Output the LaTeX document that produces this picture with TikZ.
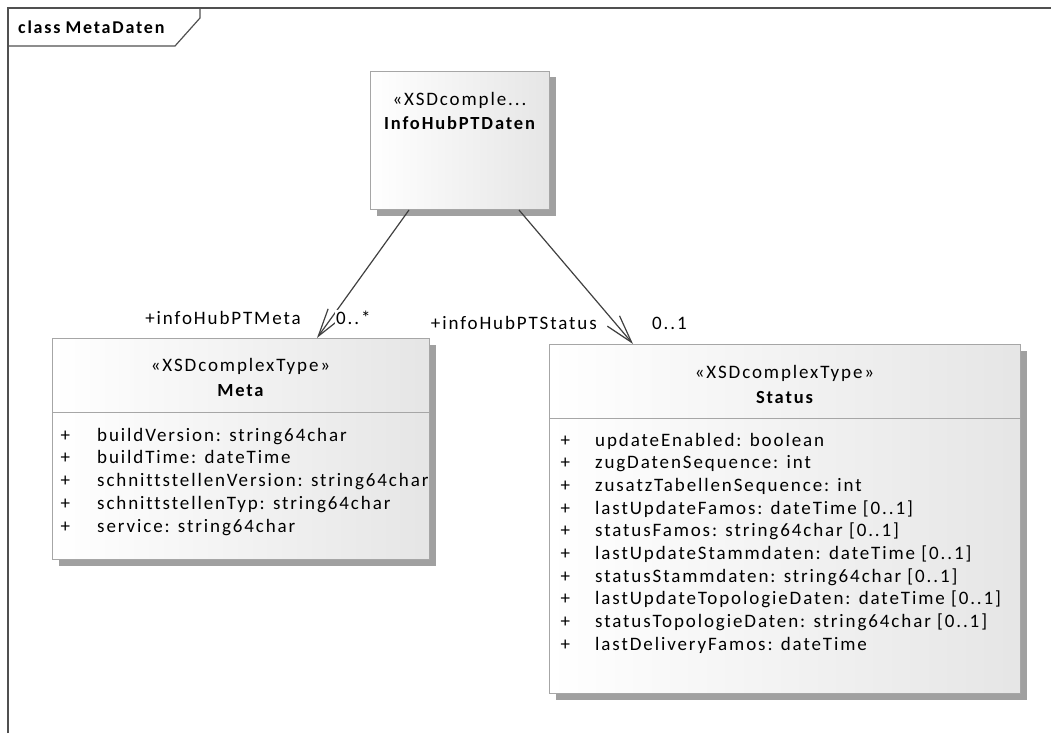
\documentclass[tikz,border=0pt]{standalone}
\usepackage{fontspec}
\setmainfont{Carlito}[LetterSpace=10,Ligatures=NoCommon]
\usetikzlibrary{arrows.meta,shadows}
\definecolor{framecol}{HTML}{505050}
\definecolor{boxborder}{HTML}{A6A6A6}
\definecolor{shadowcol}{HTML}{A0A0A0}
\definecolor{linecol}{HTML}{404040}
\begin{document}
\begin{tikzpicture}[x=1pt,y=-1pt,
  frame/.style={draw=framecol, line width=1.2pt},
  classbox/.style={draw=boxborder, line width=1pt, anchor=north west, inner sep=0pt,
    left color=white, right color=black!10,
    drop shadow={shadow xshift=6pt, shadow yshift=-6pt, fill=shadowcol, opacity=1}},
  sepline/.style={draw=boxborder, line width=1pt},
  txt/.style={font=\fontsize{19}{22}\selectfont, inner sep=0pt, text=black},
  btxt/.style={font=\fontsize{18.5}{22}\selectfont\bfseries, inner sep=0pt, text=black},
  rolelbl/.style={font=\fontsize{19}{22}\selectfont, inner sep=1pt, fill=white, text=black},
  assoc/.style={draw=linecol, line width=1.2pt, -{Straight Barb[length=28pt,width=16pt]}}
]
\useasboundingbox (0,0) rectangle (1051,733);

% diagram frame
\draw[frame] (8,733) -- (8,8) -- (1051,8);
\draw[frame] (8,46) -- (175,46) -- (200,18) -- (200,8);
\node[anchor=base west, inner sep=0pt, font=\fontsize{18}{20}\selectfont\bfseries] (title) at (18,34) {class\hspace{5pt}MetaDaten};

% classes
\node[classbox, minimum width=179pt, minimum height=138pt] (info) at (370,71) {};
\node[classbox, minimum width=377pt, minimum height=221pt] (meta) at (52,338) {};
\node[classbox, minimum width=471pt, minimum height=349pt] (status) at (549,344) {};

\draw[sepline] ([yshift=-74pt]meta.north west) -- ([yshift=-74pt]meta.north east);
\draw[sepline] ([yshift=-74pt]status.north west) -- ([yshift=-74pt]status.north east);

% class headers
\node[txt, anchor=base] (infoSt) at (459.5,106) {«XSDcomple...};
\node[btxt, anchor=base] (infoName) at (459.5,129) {InfoHubPTDaten};
\node[txt, anchor=base] (metaSt) at (240.5,371) {«XSDcomplexType»};
\node[btxt, anchor=base] (metaName) at (240.5,396) {Meta};
\node[txt, anchor=base] (statusSt) at (784.5,378) {«XSDcomplexType»};
\node[btxt, anchor=base] (statusName) at (784.5,403) {Status};

% Meta attributes
\foreach \t [count=\i] in {buildVersion: string64char, buildTime: dateTime,
  schnittstellenVersion: string64char, schnittstellenTyp: string64char,
  service: string64char}{
  \node[txt, anchor=base west] (mp\i) at (60.5,{441+22.75*(\i-1)}) {+};
  \node[txt, anchor=base west] (ma\i) at (97,{441+22.75*(\i-1)}) {\t};
}

% Status attributes
\foreach \t [count=\i] in {updateEnabled: boolean, zugDatenSequence: int,
  zusatzTabellenSequence: int, lastUpdateFamos: dateTime [0..1],
  statusFamos: string64char [0..1], lastUpdateStammdaten: dateTime [0..1],
  statusStammdaten: string64char [0..1], lastUpdateTopologieDaten: dateTime [0..1],
  statusTopologieDaten: string64char [0..1], lastDeliveryFamos: dateTime}{
  \node[txt, anchor=base west] (sp\i) at (560.5,{446+22.7*(\i-1)}) {+};
  \node[txt, anchor=base west] (sa\i) at (595,{446+22.7*(\i-1)}) {\t};
}

% associations
\draw[assoc] ([xshift=39pt]info.south west) -- ([xshift=265pt]meta.north west);
\draw[assoc] ([xshift=149pt]info.south west) -- ([xshift=84pt]status.north west);

% role labels and multiplicities
\node[rolelbl, anchor=base east] (roleMeta) at (302,324) {+infoHubPTMeta};
\node[rolelbl, anchor=base west] (multMeta) at (335,324) {0..*};
\node[rolelbl, anchor=base east] (roleStatus) at (598,329) {+infoHubPTStatus};
\node[rolelbl, anchor=base west] (multStatus) at (651,329) {0..1};
\end{tikzpicture}
\end{document}
